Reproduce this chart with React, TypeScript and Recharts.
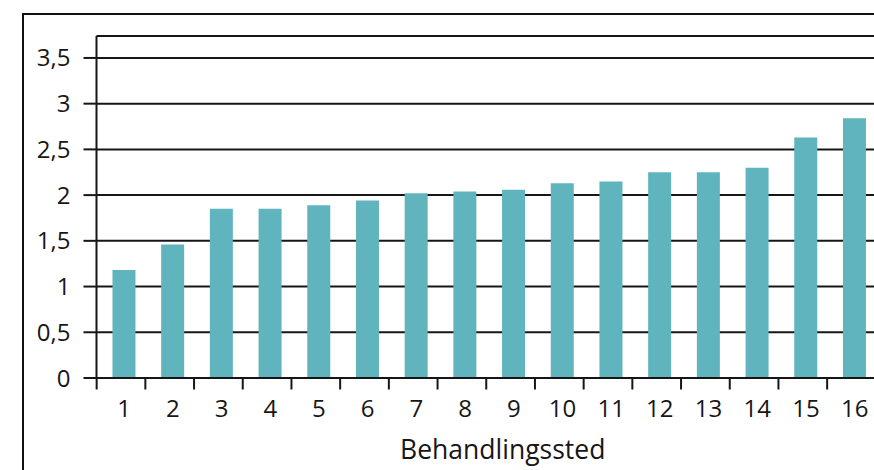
import React from "react";
import { BarChart, Bar, XAxis, YAxis, CartesianGrid } from "recharts";

// Behandlingssted 1–16 and their values
const categories = ["1", "2", "3", "4", "5", "6", "7", "8", "9", "10", "11", "12", "13", "14", "15", "16"];
const values = [1.18, 1.46, 1.85, 1.85, 1.89, 1.94, 2.02, 2.04, 2.06, 2.13, 2.15, 2.25, 2.25, 2.3, 2.63, 2.84];
const yTicks = [0, 0.5, 1, 1.5, 2, 2.5, 3, 3.5];
const xTitle = "Behandlingssted";

const data = categories.map((c, i) => ({ name: c, value: values[i] }));

const FONT = "'Open Sans', 'Noto Sans', sans-serif";
const INK = "#161616";
const BAR = "#5fb4be";

const fmt = (v: number) => String(v).replace(".", ",");

// Category label plus a tick mark at the left edge of each band
const XTick = (props: any) => {
  const { x, y, payload } = props;
  return (
    <g>
      <line x1={x - 27.5} x2={x - 27.5} y1={y} y2={y + 11.5} stroke={INK} strokeWidth={2} />
      <text x={x} y={y + 38.5} textAnchor="middle" fontFamily={FONT} fontSize={24} fontWeight={500} fill={INK}>
        {payload.value}
      </text>
    </g>
  );
};

const YTick = (props: any) => {
  const { x, y, payload } = props;
  return (
    <text x={x} y={y + 8.5} textAnchor="end" fontFamily={FONT} fontSize={24} fontWeight={500} fill={INK}>
      {fmt(payload.value)}
    </text>
  );
};

export default function App() {
  return (
    <div style={{ position: "absolute", left: 0, top: 0, width: 874, height: 470, overflow: "hidden", background: "#fff" }}>
      <div
        style={{
          position: "absolute",
          left: 21.5,
          top: 12.5,
          width: 900,
          height: 500,
          borderLeft: "2.5px solid #111",
          borderTop: "2.5px solid #111",
        }}
      />
      <div style={{ position: "absolute", left: 0, top: 0 }}>
        <BarChart
          width={884}
          height={470}
          data={data}
          margin={{ top: 36, right: 5, left: 0, bottom: 0 }}
          barCategoryGap="26%"
        >
          <CartesianGrid vertical={false} stroke={INK} strokeWidth={2} />
          <XAxis
            dataKey="name"
            height={92}
            padding={{ left: 3.3, right: 0 }}
            axisLine={{ stroke: INK, strokeWidth: 2 }}
            tickLine={false}
            tickSize={0}
            tickMargin={0}
            interval={0}
            tick={<XTick />}
            label={{
              value: xTitle,
              position: "insideBottom",
              offset: 11,
              dx: 15,
              fontFamily: FONT,
              fontSize: 26.5,
              fontWeight: 500,
              fill: INK,
            }}
          />
          <YAxis
            width={96.5}
            domain={[0, 3.74]}
            ticks={yTicks}
            interval={0}
            allowDataOverflow
            axisLine={{ stroke: INK, strokeWidth: 2 }}
            tickLine={{ stroke: INK, strokeWidth: 2 }}
            tickSize={13}
            tickMargin={13}
            tick={<YTick />}
          />
          <Bar dataKey="value" fill={BAR} isAnimationActive={false} />
        </BarChart>
      </div>
    </div>
  );
}
